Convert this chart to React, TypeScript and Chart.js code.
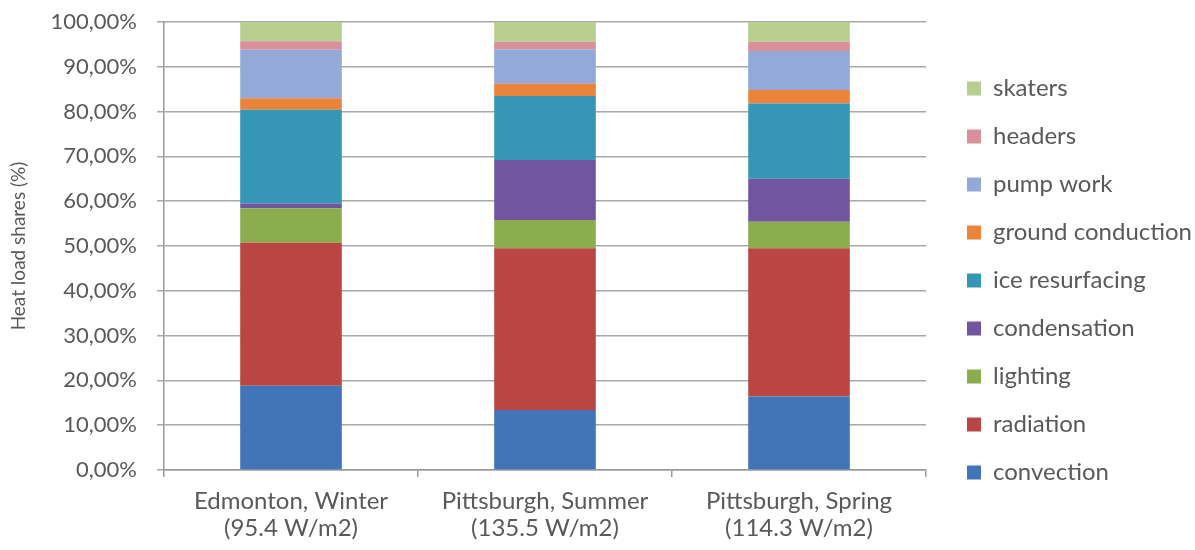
import React, { useEffect, useRef } from "react";
import { Chart, registerables } from "chart.js";

Chart.register(...registerables);

const categories: string[][] = [
  ["Edmonton, Winter", "(95.4 W/m2)"],
  ["Pittsburgh, Summer", "(135.5 W/m2)"],
  ["Pittsburgh, Spring", "(114.3 W/m2)"],
];

const seriesNames = [
  "convection",
  "radiation",
  "lighting",
  "condensation",
  "ice resurfacing",
  "ground conduction",
  "pump work",
  "headers",
  "skaters",
];

const convection = [18.8, 13.4, 16.4];
const radiation = [31.9, 36.1, 33.1];
const lighting = [7.7, 6.3, 5.9];
const condensation = [1.1, 13.4, 9.6];
const iceResurfacing = [20.9, 14.3, 16.8];
const groundConduction = [2.6, 2.7, 3.0];
const pumpWork = [10.8, 7.7, 8.7];
const headers = [1.9, 1.7, 2.1];
const skaters = [4.3, 4.4, 4.4];

const seriesValues = [
  convection,
  radiation,
  lighting,
  condensation,
  iceResurfacing,
  groundConduction,
  pumpWork,
  headers,
  skaters,
];

const seriesColors = [
  "#4274b8",
  "#bb4542",
  "#8cad4e",
  "#7155a0",
  "#3596b5",
  "#e9843a",
  "#93a9d8",
  "#d9909a",
  "#b8d08f",
];

const FONT = "Lato, 'Open Sans', sans-serif";
const TEXT = "#595959";

// extra space between plot area and legend
const legendGap = {
  id: "legendGap",
  beforeLayout(chart: any) {
    const lg = chart.legend;
    if (lg && !lg._gapPatched) {
      const orig = lg.fit;
      lg.fit = function (this: any) {
        orig.call(this);
        this.width += 10;
      };
      lg._gapPatched = true;
    }
  },
  afterLayout(chart: any) {
    const lg = chart.legend;
    if (lg) lg.left = chart.chartArea.right + 17;
  },
};

export default function App() {
  const ref = useRef<HTMLCanvasElement | null>(null);

  useEffect(() => {
    if (!ref.current) return;
    const chart = new Chart(ref.current, {
      type: "bar",
      data: {
        labels: categories,
        datasets: seriesNames.map((name, i) => ({
          label: name,
          data: seriesValues[i],
          backgroundColor: seriesColors[i],
          borderWidth: 0,
          barPercentage: 0.4,
          categoryPercentage: 1,
        })),
      },
      plugins: [legendGap],
      options: {
        animation: false,
        responsive: true,
        maintainAspectRatio: false,
        layout: { padding: { top: 11, left: 0, right: 0, bottom: 0 } },
        plugins: {
          tooltip: { enabled: false },
          legend: {
            position: "right",
            reverse: true,
            labels: {
              boxWidth: 14,
              boxHeight: 14,
              padding: 24,
              color: TEXT,
              font: { family: FONT, size: 24 },
            },
          },
        },
        scales: {
          x: {
            stacked: true,
            grid: {
              display: true,
              drawOnChartArea: false,
              drawTicks: true,
              tickLength: 7,
              color: "#999999",
              lineWidth: 1.5,
            },
            border: { display: true, color: "#999999", width: 1.5 },
            ticks: {
              color: TEXT,
              padding: 11,
              font: { family: FONT, size: 24, lineHeight: 1.12 },
              maxRotation: 0,
              autoSkip: false,
            },
            afterFit: (s: any) => {
              s.height = 80;
            },
          },
          y: {
            stacked: true,
            min: 0,
            max: 100,
            grid: {
              color: "#a8a8a8",
              lineWidth: 1.5,
              tickLength: 7,
              drawTicks: true,
            },
            border: { display: true, color: "#999999", width: 1.5 },
            ticks: {
              stepSize: 10,
              color: TEXT,
              padding: 20,
              font: { family: FONT, size: 22 },
              callback: (v: any) => Number(v).toFixed(2).replace(".", ",") + "%",
            },
            title: {
              display: true,
              text: "Heat load shares (%)",
              color: TEXT,
              padding: { top: 7, bottom: 0 },
              font: { family: FONT, size: 19 },
            },
            afterFit: (s: any) => {
              s.width = 164;
              s.paddingTop = 22;
              s.paddingBottom = 0;
            },
          },
        },
      } as any,
    });
    return () => chart.destroy();
  }, []);

  return (
    <div style={{ position: "absolute", left: 0, top: 0, width: 1195, height: 550, background: "#fff" }}>
      <canvas ref={ref} />
    </div>
  );
}
